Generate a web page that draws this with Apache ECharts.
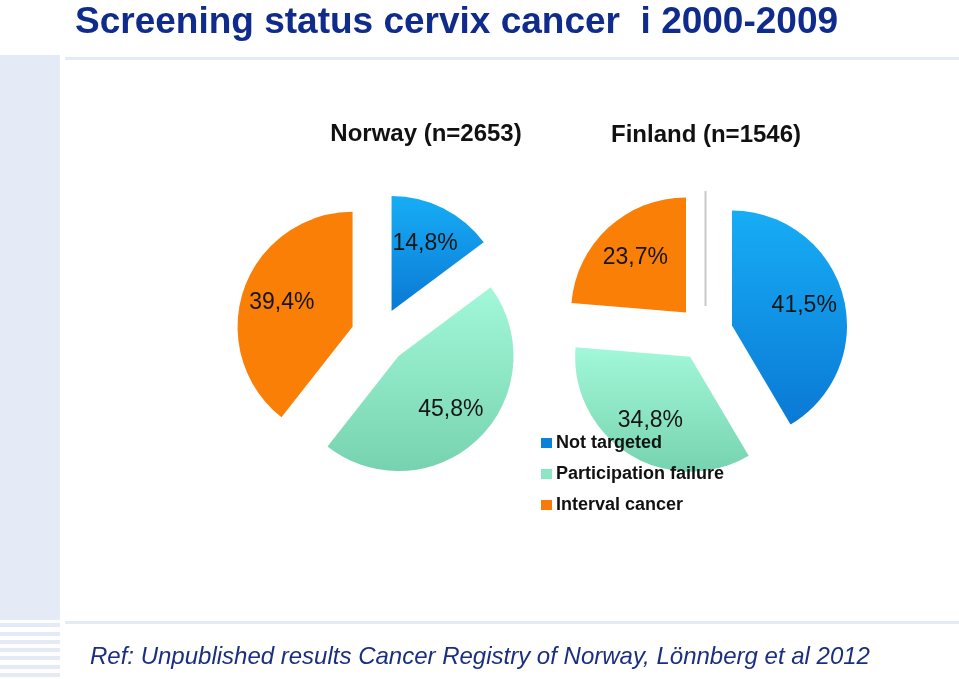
<!DOCTYPE html>
<html>
<head>
<meta charset="utf-8">
<script src="https://cdn.jsdelivr.net/npm/echarts@6/dist/echarts.min.js"></script>
<style>
html,body{margin:0;padding:0;background:#fff;}
#chart{width:959px;height:679px;}
</style>
</head>
<body>
<div id="chart"></div>
<script>
// ---- data ----
const categories = ['Not targeted', 'Participation failure', 'Interval cancer'];
const norwayValues = [14.8, 45.8, 39.4];
const finlandValues = [41.5, 34.8, 23.7];
const countryTitles = ['Norway (n=2653)', 'Finland (n=1546)'];
const mainTitle = 'Screening status cervix cancer  i 2000-2009';
const refText = 'Ref: Unpublished results Cancer Registry of Norway, Lönnberg et al 2012';

// ---- styles ----
const sliceColors = [
  {type:'linear', x:0, y:0, x2:0, y2:1, colorStops:[{offset:0,color:'#17adf5'},{offset:1,color:'#0a79d5'}]},
  {type:'linear', x:0, y:0, x2:0, y2:1, colorStops:[{offset:0,color:'#a2f8d9'},{offset:1,color:'#77d3af'}]},
  '#f97f07'
];
const legendColors = ['#0a82da', '#8ce6c4', '#f77a0a'];
const R = 115, OFFSET = 28;
const centers = [[379, 336], [705, 333]];
const fmt = p => String(p.value).replace('.', ',') + '%';

function slicePie(values, center) {
  return {
    type: 'pie', center: center, radius: [0, R],
    startAngle: 90, clockwise: true,
    selectedMode: 'multiple', selectedOffset: OFFSET,
    avoidLabelOverlap: false, silent: true,
    label: {show: false}, labelLine: {show: false},
    emphasis: {disabled: true},
    select: {itemStyle: {borderWidth: 0}},
    itemStyle: {borderWidth: 0},
    data: categories.map((c, i) => ({name: c, value: values[i], selected: true, itemStyle: {color: sliceColors[i]}}))
  };
}
function labelPie(values, center) {
  return {
    type: 'pie', center: center, radius: [0, R * 1.25],
    startAngle: 90, clockwise: true,
    selectedMode: 'multiple', selectedOffset: OFFSET,
    avoidLabelOverlap: false, silent: true, z: 3,
    itemStyle: {color: 'rgba(0,0,0,0)', borderWidth: 0},
    select: {itemStyle: {color: 'rgba(0,0,0,0)', borderWidth: 0}},
    emphasis: {disabled: true},
    label: {show: true, position: 'inside', formatter: fmt, color: '#151515',
            fontFamily: 'Liberation Sans, Arial, sans-serif', fontSize: 23},
    labelLine: {show: false},
    data: categories.map((c, i) => ({name: c, value: values[i], selected: true}))
  };
}

const chart = echarts.init(document.getElementById('chart'), null, {renderer: 'canvas'});
const bg = '#e4ebf7';
const graphics = [
  {type:'rect', shape:{x:0, y:55, width:60, height:565}, style:{fill:bg}, z:-10},
  {type:'rect', shape:{x:65, y:57, width:894, height:3}, style:{fill:bg}, z:-10},
  {type:'rect', shape:{x:65, y:621, width:894, height:3}, style:{fill:bg}, z:-10},
  {type:'line', shape:{x1:705.5, y1:191, x2:705.5, y2:306}, style:{stroke:'#c9c9c9', lineWidth:2}, z:-5},
  {type:'text', x:75, y:23, style:{text: mainTitle, fill:'#0f2b8c', font:'bold 37px "Liberation Sans", Arial, sans-serif', textVerticalAlign:'middle'}},
  {type:'text', x:426, y:134, style:{text: countryTitles[0], fill:'#111', font:'bold 24px "Liberation Sans", Arial, sans-serif', textAlign:'center', textVerticalAlign:'middle'}},
  {type:'text', x:706, y:135, style:{text: countryTitles[1], fill:'#111', font:'bold 24px "Liberation Sans", Arial, sans-serif', textAlign:'center', textVerticalAlign:'middle'}},
  {type:'text', x:90, y:657, style:{text: refText, fill:'#1b2f80', font:'italic 24px "Liberation Sans", Arial, sans-serif', textVerticalAlign:'middle'}}
];
[623, 632, 640, 648, 656, 665, 673].forEach(y => graphics.push({type:'rect', shape:{x:0, y:y, width:60, height:4}, style:{fill:bg}, z:-10}));

chart.setOption({
  backgroundColor: '#ffffff',
  animation: false,
  legend: {
    orient: 'vertical', left: 536, top: 429,
    itemWidth: 11, itemHeight: 10, itemGap: 13, icon: 'rect',
    selectedMode: false,
    textStyle: {fontFamily: 'Liberation Sans, Arial, sans-serif', fontSize: 18, fontWeight: 'bold', color: '#111', padding: [0,0,0,-1]},
    data: categories.map((c, i) => ({name: c, itemStyle: {color: legendColors[i]}}))
  },
  graphic: graphics,
  series: [
    slicePie(norwayValues, centers[0]),
    slicePie(finlandValues, centers[1]),
    labelPie(norwayValues, centers[0]),
    labelPie(finlandValues, centers[1])
  ]
});
</script>
</body>
</html>
